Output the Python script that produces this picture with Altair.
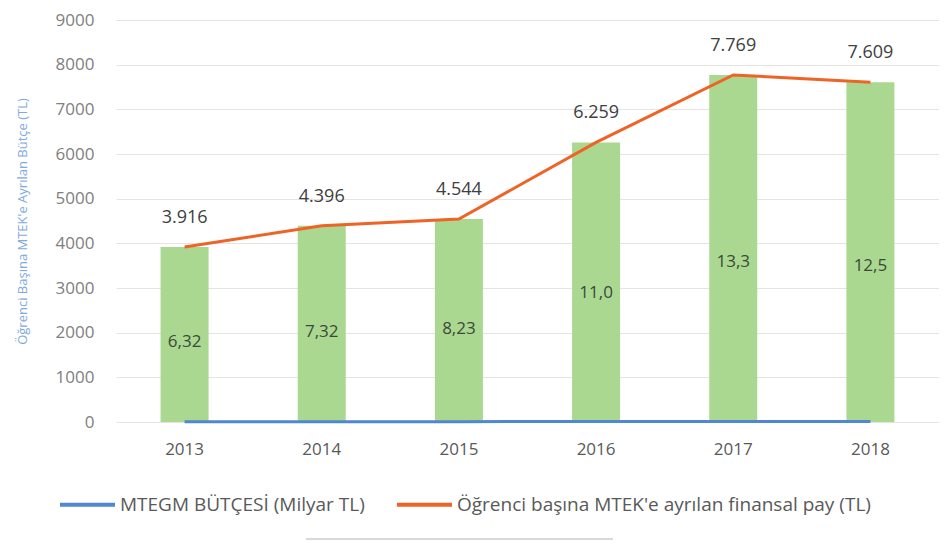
import altair as alt
import pandas as pd

years = ["2013", "2014", "2015", "2016", "2017", "2018"]
budget = [6.32, 7.32, 8.23, 11.0, 13.3, 12.5]
budget_labels = ["6,32", "7,32", "8,23", "11,0", "13,3", "12,5"]
pay = [3916, 4396, 4544, 6259, 7769, 7609]
pay_labels = ["3.916", "4.396", "4.544", "6.259", "7.769", "7.609"]
y_ticks = [0, 1000, 2000, 3000, 4000, 5000, 6000, 7000, 8000, 9000]

s_budget = "MTEGM BÜTÇESİ (Milyar TL)"
s_pay = "Öğrenci  başına  MTEK'e ayrılan finansal pay (TL)"

df = pd.DataFrame({
    "year": years,
    "budget": budget,
    "budget_label": budget_labels,
    "pay": pay,
    "pay_label": pay_labels,
})
df["mid"] = df["pay"] * 0.46

long = pd.concat([
    pd.DataFrame({"year": years, "value": budget, "series": s_budget}),
    pd.DataFrame({"year": years, "value": pay, "series": s_pay}),
])

x = alt.X("year:N", title=None,
          axis=alt.Axis(labelAngle=0, domain=False, ticks=False, labelPadding=19,
                        labelFontSize=17, labelColor="#595959", labelFont="Open Sans"),
          scale=alt.Scale(paddingInner=0.65, paddingOuter=0.325))
y_scale = alt.Scale(domain=[0, 9000])
y_axis = alt.Axis(values=y_ticks, format="d", domain=False, ticks=False, labelPadding=22,
                  labelFontSize=17, labelColor="#808080", labelFont="Open Sans",
                  gridColor="#E4E4E4", title="Öğrenci Başına MTEK'e Ayrılan Bütçe (TL)",
                  titleColor="#7FAAE0", titleFontSize=13, titleFontWeight="normal",
                  titleFont="Open Sans", titlePadding=26)

base = alt.Chart(df)

bars = base.mark_bar(color="#ABD890").encode(
    x=x,
    y=alt.Y("pay:Q", scale=y_scale, axis=y_axis),
)

lines = alt.Chart(long).mark_line(strokeWidth=3).encode(
    x=x,
    y=alt.Y("value:Q", scale=y_scale),
    color=alt.Color("series:N",
                    scale=alt.Scale(domain=[s_budget, s_pay], range=["#4F87D1", "#EE6326"]),
                    sort=[s_budget, s_pay],
                    legend=alt.Legend(orient="none", legendX=-58, legendY=455,
                                      direction="horizontal", title=None,
                                      symbolType="stroke", symbolSize=3025, symbolStrokeWidth=4,
                                      labelOffset=3, labelFontSize=19, labelColor="#595959",
                                      labelFont="Open Sans", columnPadding=24, labelLimit=700)),
)

pay_text = base.mark_text(dy=-29, fontSize=18, color="#404040", font="Open Sans").encode(
    x=x,
    y=alt.Y("pay:Q", scale=y_scale),
    text="pay_label:N",
)

budget_text = base.mark_text(fontSize=17, color="#3A4A3A", font="Open Sans").encode(
    x=x,
    y=alt.Y("mid:Q", scale=y_scale),
    text="budget_label:N",
)

sep = alt.Chart(df).mark_rule(color="#D9D9D9", strokeWidth=1.5).encode(
    x=alt.value(190), x2=alt.value(497), y=alt.value(519)
)

chart = alt.layer(bars, lines, pay_text, budget_text, sep).properties(
    width=823, height=402, padding={"left": 8, "top": 3, "right": 0, "bottom": 0}
).configure_view(stroke=None)

chart.save("out.html", embed_options={"renderer": "svg", "actions": False})
